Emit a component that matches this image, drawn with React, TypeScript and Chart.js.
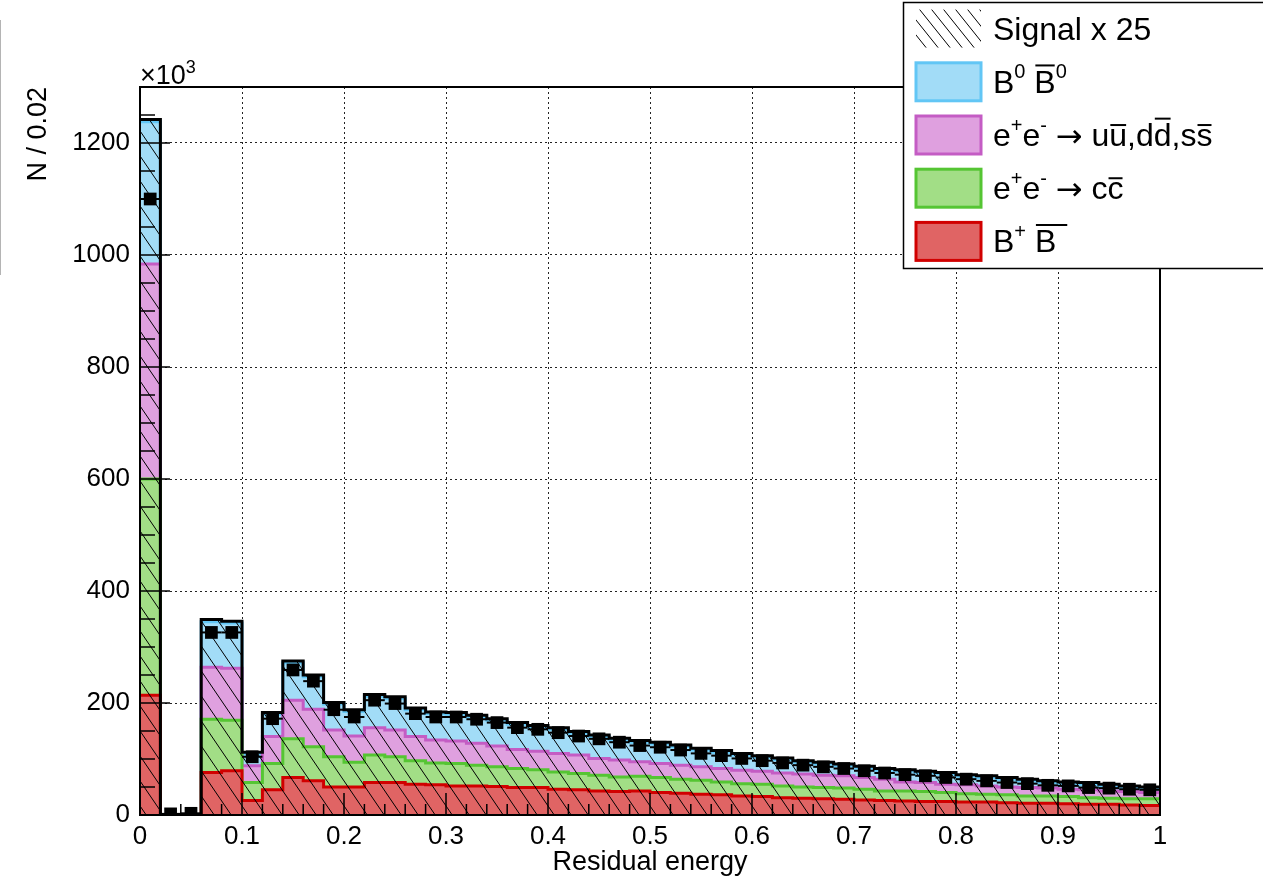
import React, { useEffect, useRef } from 'react';
import { Chart, registerables } from 'chart.js';

Chart.register(...registerables);

// ---------------- data (units of 10^3 entries per 0.02 bin) ----------------
const X_MIN = 0;
const X_MAX = 1;
const BIN_WIDTH = 0.02;

// stacked background components, bottom to top
const B_CHARGED = [214, 0, 0, 76, 79, 26, 45, 67, 61, 50, 50, 58, 58, 55, 54, 52, 52, 51, 49, 49, 46, 45, 43, 42, 43, 40, 39, 37, 36, 34, 33, 31, 30, 29, 28, 27, 26, 25, 24, 24, 23, 23, 22, 21, 21, 20, 19, 19, 18, 17];
const CCBAR = [386, 0, 0, 95, 90, 32, 47, 69, 61, 54, 44, 49, 46, 42, 39, 40, 37, 35, 34, 32, 31, 29, 28, 26, 26, 27, 25, 25, 23, 22, 22, 21, 20, 20, 20, 19, 17, 18, 18, 16, 15, 14, 14, 13, 13, 13, 12, 11, 11, 12];
const UDS = [384, 0, 0, 93, 93, 30, 48, 69, 67, 48, 47, 49, 48, 43, 41, 40, 39, 37, 34, 33, 33, 33, 30, 30, 26, 25, 25, 24, 24, 24, 23, 23, 23, 22, 22, 21, 21, 16, 16, 15, 16, 15, 14, 15, 14, 13, 14, 13, 13, 11];
const B_NEUTRAL = [254, 0, 0, 81, 81, 21, 40, 67, 58, 46, 44, 56, 56, 48, 47, 48, 47, 46, 45, 43, 43, 39, 39, 36, 35, 35, 33, 30, 29, 27, 25, 24, 21, 20, 18, 17, 16, 19, 17, 18, 15, 15, 14, 12, 10, 10, 10, 9, 7, 7];
// hatched signal x 25 histogram
const SIGNAL_X25 = [1242, 0, 0, 349, 346, 112, 183, 275, 250, 201, 188, 215, 211, 191, 184, 183, 178, 172, 165, 160, 156, 149, 143, 137, 133, 130, 125, 119, 115, 110, 106, 102, 97, 94, 91, 87, 83, 81, 78, 76, 72, 70, 67, 64, 61, 59, 58, 55, 52, 50];
// data points
const DATA = [1100, 2, 3, 326, 326, 104, 172, 259, 239, 188, 175, 205, 199, 181, 175, 175, 171, 165, 156, 153, 147, 141, 136, 130, 124, 121, 116, 110, 106, 101, 97, 93, 89, 86, 83, 79, 75, 72, 70, 67, 64, 61, 58, 56, 53, 52, 49, 48, 46, 45];

const X_TICKS = [0, 0.1, 0.2, 0.3, 0.4, 0.5, 0.6, 0.7, 0.8, 0.9, 1];
const X_TICK_LABELS = ['0', '0.1', '0.2', '0.3', '0.4', '0.5', '0.6', '0.7', '0.8', '0.9', '1'];
const Y_TICKS = [0, 200, 400, 600, 800, 1000, 1200];
const Y_TICK_LABELS = ['0', '200', '400', '600', '800', '1000', '1200'];
const Y_MIN = 0;
const Y_MAX = 1300;

const X_TITLE = 'Residual energy';
const Y_TITLE = 'N / 0.02';

// ---------------- styles ----------------
const FONT = '"Liberation Sans", Arial, Helvetica, sans-serif';
const ARROW_FONT = '"DejaVu Sans", sans-serif';
const BLUE_FILL = '#a2dcf7';
const BLUE_LINE = '#62c6f5';
const PINK_FILL = '#dfa0df';
const PINK_LINE = '#c45cc4';
const GREEN_FILL = '#a2de86';
const GREEN_LINE = '#55c533';
const RED_FILL = '#e06464';
const RED_LINE = '#d10000';

type Seg = { t: string; sup?: boolean; bar?: boolean; tall?: boolean; barExtra?: number; arrow?: boolean };

const LEGEND_ENTRIES: { kind: 'hatch' | 'box'; fill?: string; line?: string; segs: Seg[] }[] = [
  { kind: 'hatch', segs: [{ t: 'Signal x 25' }] },
  { kind: 'box', fill: BLUE_FILL, line: BLUE_LINE, segs: [{ t: 'B' }, { t: '0', sup: true }, { t: ' ' }, { t: 'B', bar: true, tall: true }, { t: '0', sup: true }] },
  { kind: 'box', fill: PINK_FILL, line: PINK_LINE, segs: [{ t: 'e' }, { t: '+', sup: true }, { t: 'e' }, { t: '-', sup: true }, { t: ' ' }, { t: '\u2192', arrow: true }, { t: ' u' }, { t: 'u', bar: true }, { t: ',d' }, { t: 'd', bar: true, tall: true }, { t: ',s' }, { t: 's', bar: true }] },
  { kind: 'box', fill: GREEN_FILL, line: GREEN_LINE, segs: [{ t: 'e' }, { t: '+', sup: true }, { t: 'e' }, { t: '-', sup: true }, { t: ' ' }, { t: '\u2192', arrow: true }, { t: ' c' }, { t: 'c', bar: true }] },
  { kind: 'box', fill: RED_FILL, line: RED_LINE, segs: [{ t: 'B' }, { t: '+', sup: true }, { t: ' ' }, { t: 'B', bar: true, tall: true, barExtra: 12 }] },
];

function cumulative(...parts: number[][]): number[] {
  return parts[0].map((_, i) => parts.reduce((s, p) => s + p[i], 0));
}

function stepPoints(vals: number[]) {
  const pts = [{ x: X_MIN, y: vals[0] }];
  vals.forEach((v, i) => pts.push({ x: X_MIN + (i + 0.5) * BIN_WIDTH, y: v }));
  pts.push({ x: X_MAX, y: vals[vals.length - 1] });
  return pts;
}

function makeHatch(W: number, H: number): CanvasPattern | string {
  const c = document.createElement('canvas');
  c.width = W; c.height = H;
  const g = c.getContext('2d');
  if (!g) return 'rgba(0,0,0,0)';
  g.strokeStyle = '#000';
  g.lineWidth = 1;
  g.beginPath();
  for (const dx of [-W, 0, W]) {
    g.moveTo(dx, 0);
    g.lineTo(dx + W, H);
  }
  g.stroke();
  return g.createPattern(c, 'repeat') || '#000';
}

function drawRich(ctx: CanvasRenderingContext2D, segs: Seg[], x: number, baseline: number, size: number) {
  let cx = x;
  ctx.textBaseline = 'alphabetic';
  ctx.textAlign = 'left';
  for (const s of segs) {
    const fs = s.sup ? Math.round(size * 0.62) : size;
    ctx.font = `${fs}px ${s.arrow ? ARROW_FONT : FONT}`;
    const w = ctx.measureText(s.t).width;
    const by = s.sup ? baseline - size * 0.45 : s.arrow ? baseline + 1 : baseline;
    ctx.fillText(s.t, cx, by);
    if (s.bar) {
      const by2 = baseline - (s.tall ? 0.73 : 0.53) * size - 4;
      ctx.save();
      ctx.lineWidth = 2;
      ctx.beginPath();
      ctx.moveTo(cx + 1, by2);
      ctx.lineTo(cx + w + (s.barExtra || 0) - 1, by2);
      ctx.stroke();
      ctx.restore();
    }
    cx += w;
  }
}

const rootPlugin = {
  id: 'rootStyle',
  afterDatasetsDraw(chart: any) {
    const { ctx, chartArea: ca, scales } = chart;
    const x = scales.x, y = scales.y;
    ctx.save();
    // data x error bars
    ctx.strokeStyle = '#000';
    ctx.lineWidth = 2;
    DATA.forEach((v, i) => {
      const py = y.getPixelForValue(v);
      ctx.beginPath();
      ctx.moveTo(x.getPixelForValue(X_MIN + i * BIN_WIDTH), py);
      ctx.lineTo(x.getPixelForValue(X_MIN + (i + 1) * BIN_WIDTH), py);
      ctx.stroke();
    });
    // inward ticks
    ctx.lineWidth = 1.5;
    for (let i = 0; i <= 50; i++) {
      const px = x.getPixelForValue(i * BIN_WIDTH);
      const len = i % 5 === 0 ? 22 : 11;
      ctx.beginPath();
      ctx.moveTo(px, ca.bottom);
      ctx.lineTo(px, ca.bottom - len);
      ctx.stroke();
    }
    for (let v = Y_MIN; v <= Y_MAX; v += 50) {
      const py = y.getPixelForValue(v);
      const len = v % 200 === 0 ? 30 : 15;
      ctx.beginPath();
      ctx.moveTo(ca.left, py);
      ctx.lineTo(ca.left + len, py);
      ctx.stroke();
    }
    // frame
    ctx.lineWidth = 2;
    ctx.strokeRect(ca.left, ca.top, ca.right - ca.left, ca.bottom - ca.top);
    ctx.restore();
  },
  afterDraw(chart: any) {
    const { ctx, chartArea: ca } = chart;
    ctx.save();
    // x10^3 multiplier
    ctx.fillStyle = '#000';
    ctx.textBaseline = 'alphabetic';
    ctx.textAlign = 'left';
    ctx.font = `27px ${FONT}`;
    ctx.fillText('\u00d710', ca.left, ca.top - 3);
    const w = ctx.measureText('\u00d710').width;
    ctx.font = `18px ${FONT}`;
    ctx.fillText('3', ca.left + w, ca.top - 14);

    // stray grey line at left edge
    ctx.strokeStyle = '#b4b4b4';
    ctx.lineWidth = 1;
    ctx.beginPath();
    ctx.moveTo(0.5, 20);
    ctx.lineTo(0.5, 275);
    ctx.stroke();

    // legend
    const lx = 903, ly = 2, lw = 400, lh = 266;
    ctx.fillStyle = '#fff';
    ctx.fillRect(lx, ly, lw, lh);
    ctx.strokeStyle = '#000';
    ctx.lineWidth = 1.5;
    ctx.strokeRect(lx + 0.5, ly + 0.5, lw, lh);
    const rowH = lh / LEGEND_ENTRIES.length;
    LEGEND_ENTRIES.forEach((e, i) => {
      const cy = ly + rowH * (i + 0.5);
      const bx = 916, bw = 65, bh = 38;
      if (e.kind === 'hatch') {
        ctx.fillStyle = (chart as any).$legendHatch || '#000';
        ctx.fillRect(bx, cy - bh / 2, bw, bh);
      } else {
        ctx.fillStyle = e.fill!;
        ctx.fillRect(bx, cy - bh / 2, bw, bh);
        ctx.strokeStyle = e.line!;
        ctx.lineWidth = 3;
        ctx.strokeRect(bx, cy - bh / 2, bw, bh);
      }
      ctx.fillStyle = '#000';
      ctx.strokeStyle = '#000';
      drawRich(ctx, e.segs, 993, cy + 11, 32);
    });
    ctx.restore();
  },
};

export default function App() {
  const ref = useRef<HTMLCanvasElement>(null);
  useEffect(() => {
    if (!ref.current) return;
    const hatch = makeHatch(17, 25);
    const cumRed = cumulative(B_CHARGED);
    const cumGreen = cumulative(B_CHARGED, CCBAR);
    const cumPink = cumulative(B_CHARGED, CCBAR, UDS);
    const cumBlue = cumulative(B_CHARGED, CCBAR, UDS, B_NEUTRAL);
    const base = {
      stepped: 'middle' as const,
      pointRadius: 0,
      fill: 'origin',
      borderWidth: 3,
      borderJoinStyle: 'miter' as const,
      tension: 0,
    };
    const chart = new Chart(ref.current, {
      type: 'line',
      data: {
        datasets: [
          { ...base, label: 'B0 B0bar', data: stepPoints(cumBlue), backgroundColor: BLUE_FILL, borderColor: BLUE_LINE, order: 10 },
          { ...base, label: 'uds', data: stepPoints(cumPink), backgroundColor: PINK_FILL, borderColor: PINK_LINE, order: 9 },
          { ...base, label: 'ccbar', data: stepPoints(cumGreen), backgroundColor: GREEN_FILL, borderColor: GREEN_LINE, order: 8 },
          { ...base, label: 'B+ B-', data: stepPoints(cumRed), backgroundColor: RED_FILL, borderColor: RED_LINE, order: 7 },
          { ...base, label: 'Signal x 25', data: stepPoints(SIGNAL_X25), backgroundColor: hatch as any, borderColor: '#000', order: 2 },
          {
            label: 'Data',
            data: DATA.map((v, i) => ({ x: X_MIN + (i + 0.5) * BIN_WIDTH, y: v })),
            showLine: false,
            fill: false,
            pointStyle: 'rect',
            pointRadius: 9,
            pointBackgroundColor: '#000',
            pointBorderColor: '#000',
            pointBorderWidth: 0,
            order: 1,
          } as any,
        ],
      },
      options: {
        responsive: false,
        animation: false,
        devicePixelRatio: 1,
        layout: { padding: { top: 87, right: 103, left: 0, bottom: 0 } },
        plugins: { legend: { display: false }, tooltip: { enabled: false } },
        scales: {
          x: {
            type: 'linear',
            min: X_MIN,
            max: X_MAX,
            afterBuildTicks: (s: any) => { s.ticks = X_TICKS.map((v) => ({ value: v })); },
            afterFit: (s: any) => { s.height = 64; },
            ticks: {
              autoSkip: false,
              maxRotation: 0,
              padding: 6,
              color: '#000',
              font: { family: FONT, size: 26 },
              callback: (_v: any, i: number) => X_TICK_LABELS[i],
            },
            grid: {
              drawTicks: false,
              lineWidth: 1,
              color: (c: any) => (c.tick && c.tick.value > X_MIN && c.tick.value < X_MAX ? '#222' : 'rgba(0,0,0,0)'),
            },
            border: { display: false, dash: [2, 3] },
            title: { display: true, text: X_TITLE, color: '#000', font: { family: FONT, size: 27 }, padding: { top: 0, bottom: 0 } },
          },
          y: {
            type: 'linear',
            min: Y_MIN,
            max: Y_MAX,
            afterBuildTicks: (s: any) => { s.ticks = Y_TICKS.map((v) => ({ value: v })); },
            afterFit: (s: any) => { s.width = 140; },
            ticks: {
              autoSkip: false,
              padding: 10,
              color: '#000',
              font: { family: FONT, size: 26 },
              callback: (_v: any, i: number) => Y_TICK_LABELS[i],
            },
            grid: {
              drawTicks: false,
              lineWidth: 1,
              color: (c: any) => (c.tick && c.tick.value > Y_MIN && c.tick.value < Y_MAX ? '#222' : 'rgba(0,0,0,0)'),
            },
            border: { display: false, dash: [2, 3] },
            title: { display: true, text: Y_TITLE, align: 'end', color: '#000', font: { family: FONT, size: 27 }, padding: { top: 22, bottom: 0 } },
          },
        },
      } as any,
      plugins: [rootPlugin],
    });
    (chart as any).$legendHatch = makeHatch(12, 15);
    chart.draw();
    return () => chart.destroy();
  }, []);
  return (
    <div style={{ position: 'fixed', left: 0, top: 0, width: 1263, height: 879, background: '#fff' }}>
      <canvas ref={ref} width={1263} height={879} style={{ display: 'block', width: 1263, height: 879 }} />
    </div>
  );
}
